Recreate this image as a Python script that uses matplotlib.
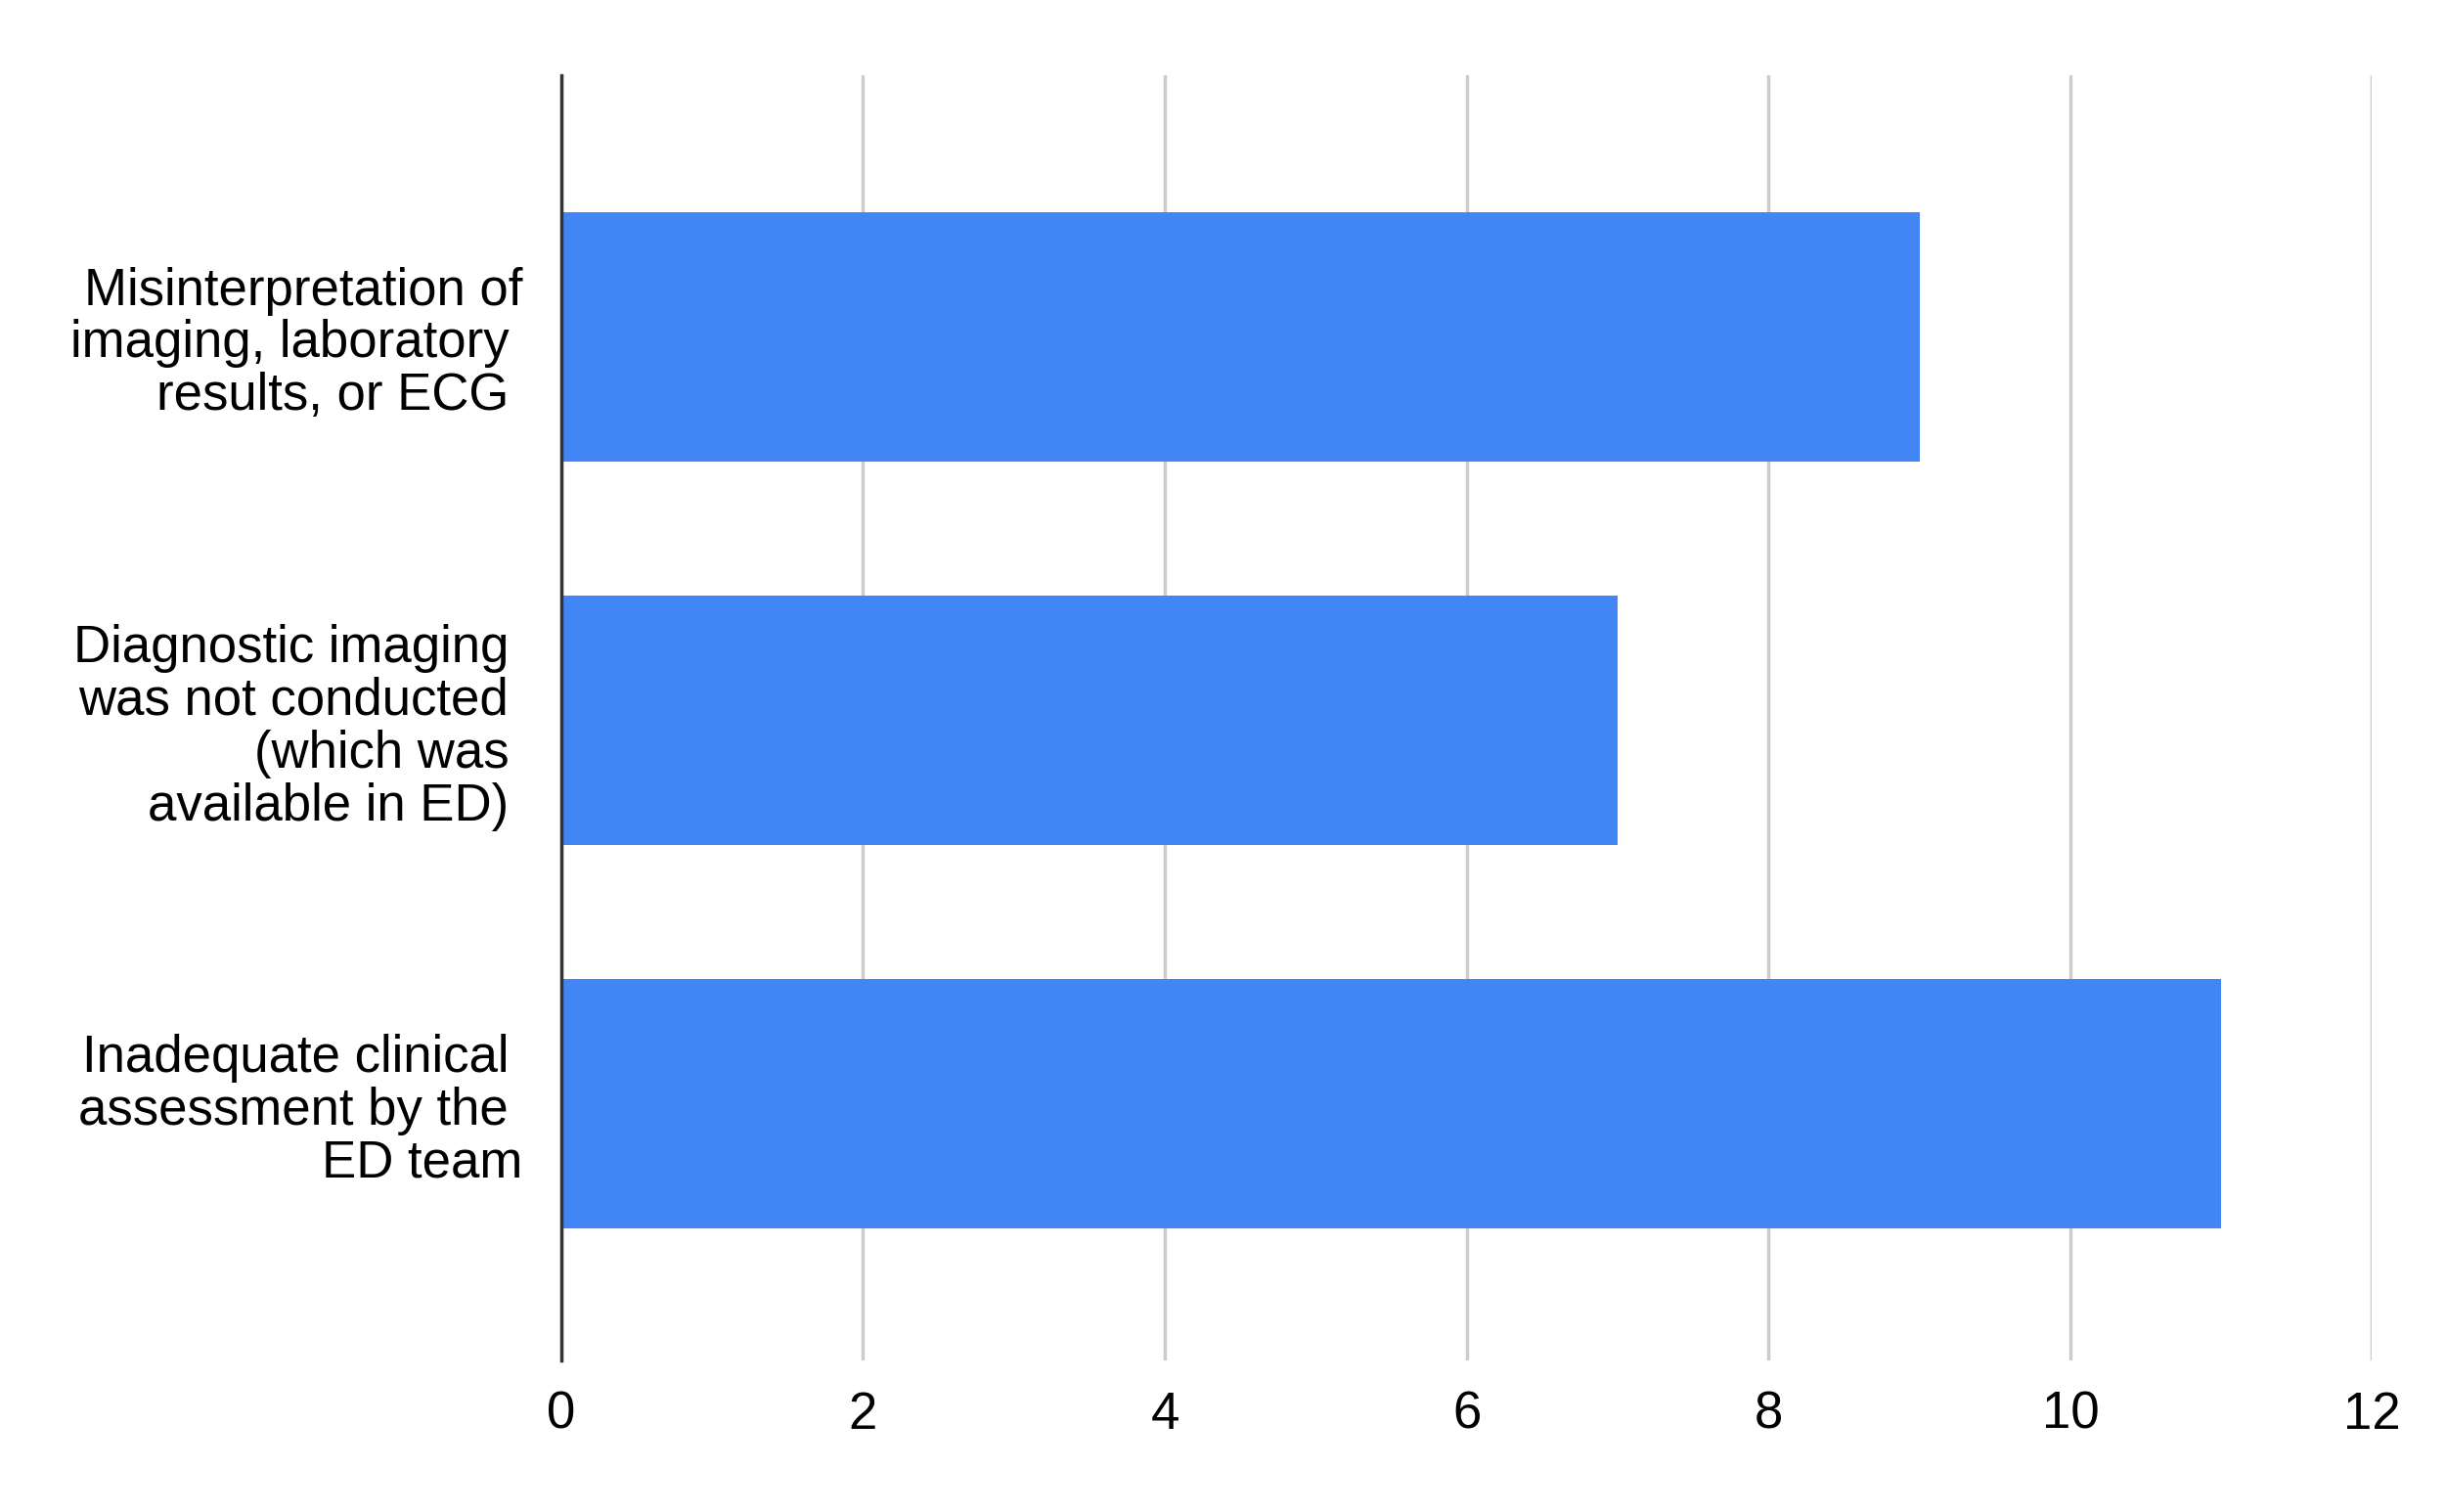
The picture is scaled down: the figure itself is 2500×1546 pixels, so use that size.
import matplotlib.pyplot as plt

plt.rcParams['font.family'] = ['Liberation Sans', 'DejaVu Sans']

categories = [
    'Misinterpretation of\nimaging, laboratory \nresults, or ECG ',
    'Diagnostic imaging \nwas not conducted \n(which was \navailable in ED) ',
    'Inadequate clinical \nassessment by the \nED team',
]
values = [9, 7, 11]
xticks = [0, 2, 4, 6, 8, 10, 12]

fig = plt.figure(figsize=(25, 15.46), dpi=100)
ax = fig.add_axes([0.2295, 0.1, 0.7445 * (1519 - 358) / (1527 - 360), 0.85])

pos = [2, 1, 0]
ax.barh(pos, values, height=0.65, color='#4285f4', zorder=3)

ax.set_xlim(0, 12)
ax.set_ylim(-0.67, 2.68)
ax.set_xticks(xticks)
ax.set_xticklabels([str(t) for t in xticks], fontsize=38)
ax.set_yticks(pos)
ax.set_yticklabels(categories, fontsize=38, linespacing=1.1)
ax.tick_params(axis='x', length=0, pad=22)
ax.tick_params(axis='y', length=0, pad=28)
ax.grid(axis='x', color='#cccccc', linewidth=2.5, zorder=0)
for s in ['top', 'right', 'bottom']:
    ax.spines[s].set_visible(False)
ax.spines['left'].set_color('#333333')
ax.spines['left'].set_linewidth(2.5)
ax.spines['left'].set_zorder(4)

fig.savefig('out.png')
